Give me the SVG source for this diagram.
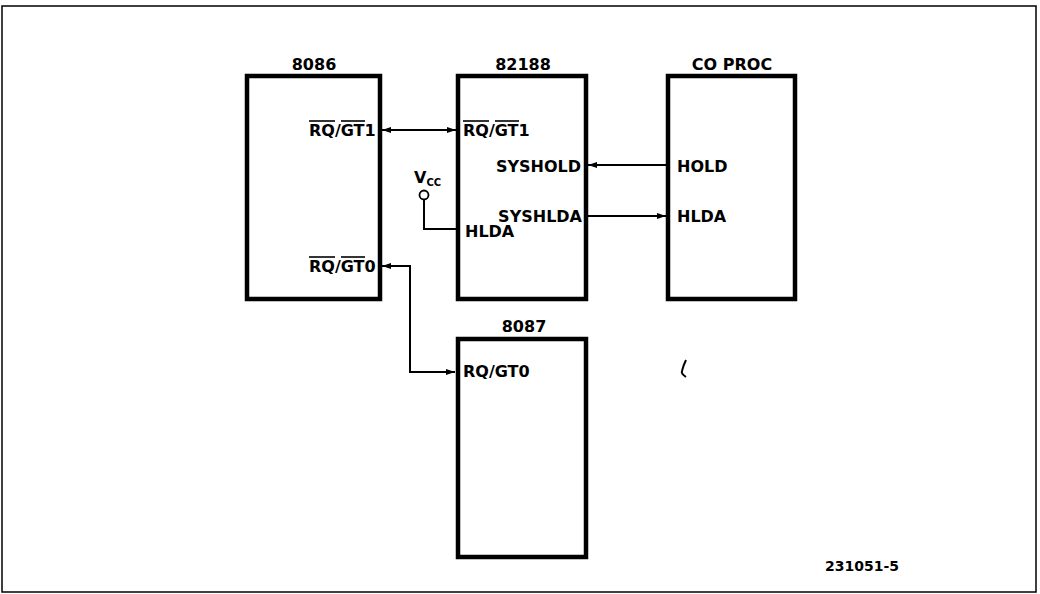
<svg xmlns="http://www.w3.org/2000/svg" width="1040" height="594" viewBox="0 0 1040 594">
<defs>
<style>
.box{fill:#fff;stroke:#000;stroke-width:4.5}
.t{font-family:"DejaVu Sans",sans-serif;font-weight:bold;font-size:16px;fill:#000}
.ttl{font-family:"DejaVu Sans",sans-serif;font-weight:bold;font-size:16px;fill:#000;text-anchor:middle}
.ob{stroke:#000;stroke-width:1.6}
.w{fill:none;stroke:#000;stroke-width:2}
</style>
<marker id="ah" viewBox="0 0 9 6" refX="9" refY="3" markerWidth="9" markerHeight="6" markerUnits="userSpaceOnUse" orient="auto-start-reverse">
<path d="M0,0 L9,3 L0,6 z" fill="#000"/>
</marker>
</defs>
<rect x="0" y="0" width="1040" height="594" fill="#fff"/>
<rect x="2" y="6" width="1034" height="586" fill="none" stroke="#000" stroke-width="1.5"/>

<g id="connectors">
<line class="w" x1="382" y1="130" x2="456" y2="130" marker-start="url(#ah)" marker-end="url(#ah)"/>
<line class="w" x1="666" y1="165" x2="588" y2="165" marker-end="url(#ah)"/>
<line class="w" x1="588" y1="216" x2="666" y2="216" marker-end="url(#ah)"/>
<circle cx="424" cy="195" r="4.5" fill="#fff" stroke="#000" stroke-width="1.8"/>
<polyline class="w" points="424,199.5 424,229 456,229"/>
<polyline class="w" points="382,266 410,266 410,372 455,372" marker-start="url(#ah)" marker-end="url(#ah)"/>
</g>

<g id="n8086">
<rect class="box" x="247" y="76" width="133" height="223"/>
<text class="ttl" x="314" y="70">8086</text>
<text class="t" x="309" y="136">RQ/GT1</text>
<line class="ob" x1="309" y1="121" x2="335" y2="121"/>
<line class="ob" x1="341" y1="121" x2="365" y2="121"/>
<text class="t" x="309" y="272">RQ/GT0</text>
<line class="ob" x1="309" y1="257" x2="335" y2="257"/>
<line class="ob" x1="341" y1="257" x2="365" y2="257"/>
</g>

<g id="n82188">
<rect class="box" x="458" y="76" width="128" height="223"/>
<text class="ttl" x="523" y="70">82188</text>
<text class="t" x="463" y="136">RQ/GT1</text>
<line class="ob" x1="463" y1="121" x2="489" y2="121"/>
<line class="ob" x1="495" y1="121" x2="519" y2="121"/>
<text class="t" x="581" y="172" text-anchor="end">SYSHOLD</text>
<text class="t" x="582" y="222" text-anchor="end">SYSHLDA</text>
<text class="t" x="465" y="237">HLDA</text>
</g>

<g id="vcc">
<text class="t" x="414" y="183" font-size="15">V<tspan font-size="10" dy="3">CC</tspan></text>
</g>

<g id="coproc">
<rect class="box" x="668" y="76" width="127" height="223"/>
<text class="ttl" x="732" y="70">CO PROC</text>
<text class="t" x="677" y="172">HOLD</text>
<text class="t" x="677" y="222">HLDA</text>
</g>

<g id="n8087">
<rect class="box" x="458" y="339" width="128" height="218"/>
<text class="ttl" x="524" y="332">8087</text>
<text class="t" x="463" y="377">RQ/GT0</text>
</g>

<path d="M686 360 C684 364, 683 367, 682 371 C681 373, 683 375, 686 377" fill="none" stroke="#000" stroke-width="2"/>
<text x="825" y="571" font-family="DejaVu Sans, sans-serif" font-weight="bold" font-size="14" fill="#000">231051-5</text>
</svg>
